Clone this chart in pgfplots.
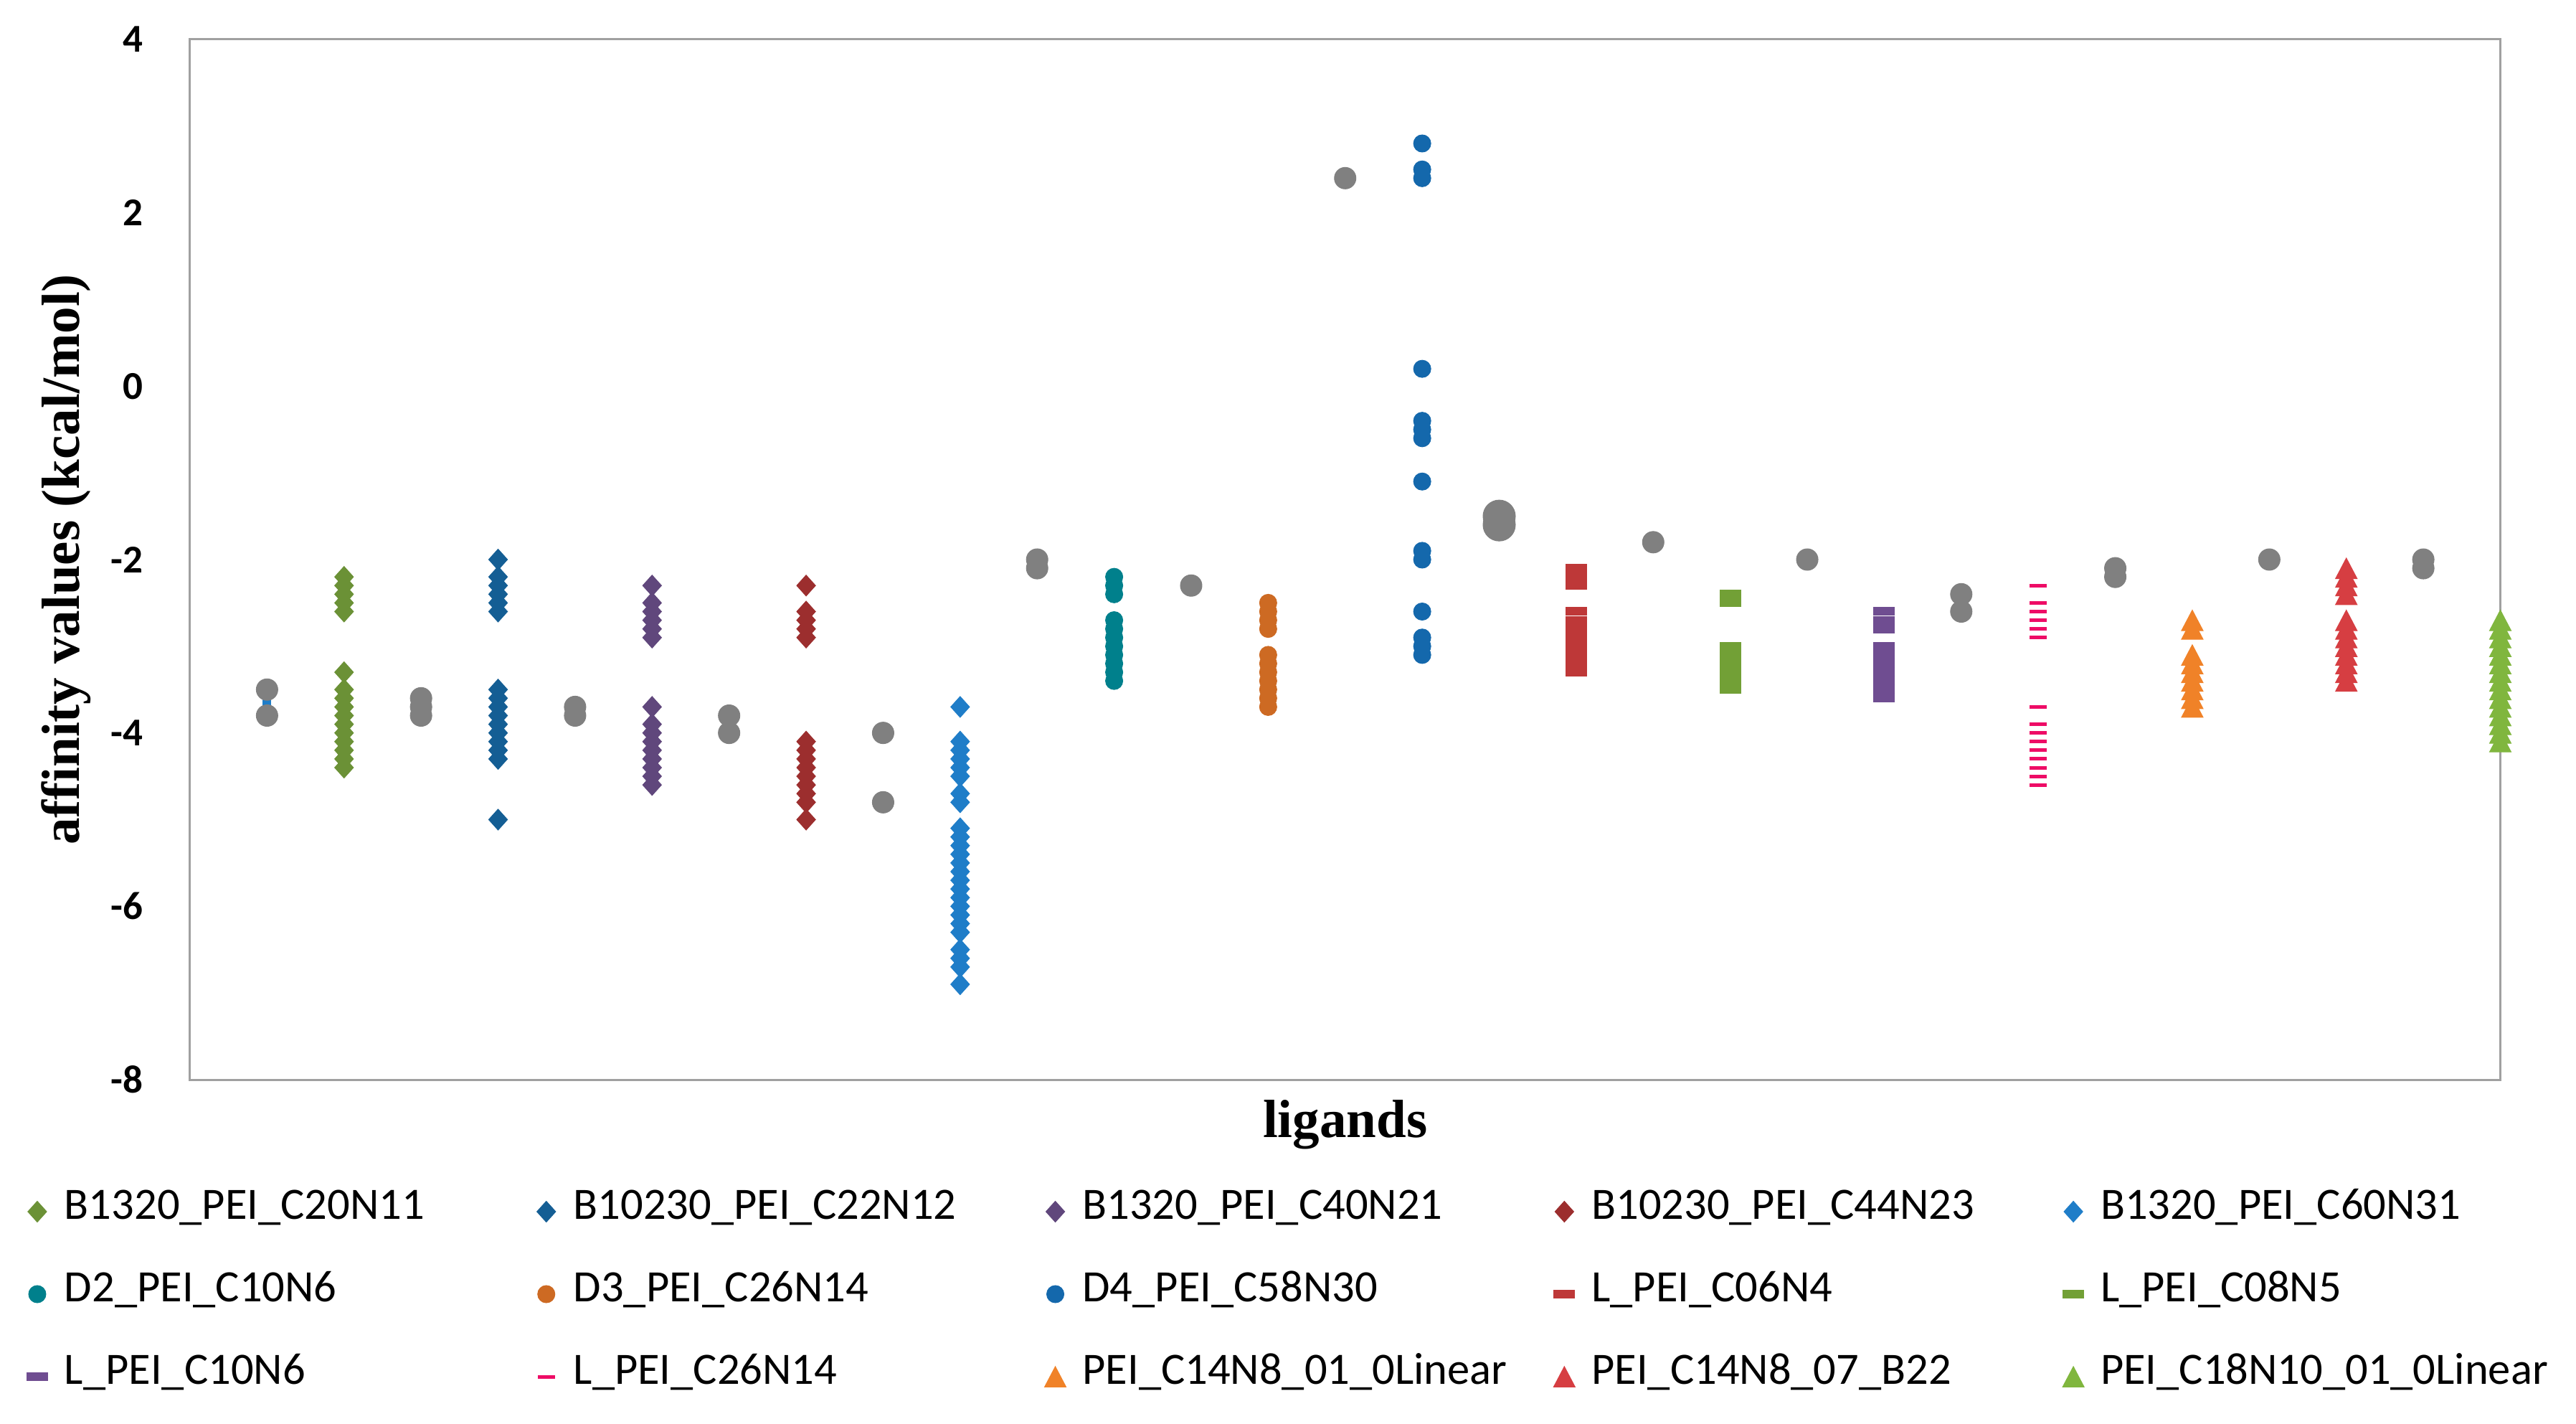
\documentclass[border=0pt]{standalone}
\usepackage{fontspec}
\setmainfont{Carlito}
\newfontfamily\tnr{Liberation Serif}
\usepackage{pgfplots}
\pgfplotsset{compat=1.18}

\definecolor{cA}{RGB}{107,145,54}
\definecolor{cB}{RGB}{20,94,148}
\definecolor{cC}{RGB}{96,71,124}
\definecolor{cD}{RGB}{156,46,46}
\definecolor{cE}{RGB}{31,125,200}
\definecolor{cF}{RGB}{0,128,140}
\definecolor{cG}{RGB}{205,106,35}
\definecolor{cH}{RGB}{20,104,172}
\definecolor{cI}{RGB}{190,56,56}
\definecolor{cJ}{RGB}{114,160,54}
\definecolor{cK}{RGB}{111,77,145}
\definecolor{cL}{RGB}{238,12,102}
\definecolor{cM}{RGB}{240,130,40}
\definecolor{cN}{RGB}{214,62,66}
\definecolor{cO}{RGB}{128,182,62}
\definecolor{gry}{RGB}{128,128,128}
\definecolor{axgray}{RGB}{160,160,160}

\pgfplotsset{
  dia/.style={only marks, mark=diamond*, mark size=2.9pt, mark options={xscale=1.2, line width=0.2pt}, color=#1},
  dot/.style={only marks, mark=*, mark size=2.4pt, mark options={line width=0.2pt}, color=#1},
  dsh/.style={only marks, mark=-, mark size=3pt, mark options={line width=2.4pt}, color=#1},
  tri/.style={only marks, mark=triangle*, mark size=3.46pt, mark options={yscale=1.1, yshift=-0.9pt, line width=0.2pt}, color=#1},
}

\newcommand{\lent}[1]{\makebox[133.56pt][l]{\hspace{3.4pt}#1}}
\newcommand{\lenl}[1]{\hspace{3.4pt}#1}

\begin{document}
\begin{tikzpicture}
\begin{axis}[
  at={(0,0)}, anchor=south west,
  scale only axis, width=644.3pt, height=290pt,
  xmin=0, xmax=30, ymin=-8, ymax=4,
  xtick=\empty,
  ytick={-8,-6,-4,-2,0,2,4},
  yticklabels={-8,-6,-4,-2,0,2,4},
  major tick length=0pt,
  axis line style={draw=axgray, line width=0.6pt},
  clip=false,
  yticklabel style={inner sep=0pt, xshift=-13pt, font=\bfseries\fontsize{11}{13}\selectfont},
  xlabel={ligands},
  xlabel style={at={(axis description cs:0.5,-0.0186)}, anchor=north, inner sep=0pt, font=\tnr\bfseries\fontsize{15}{18}\selectfont},
  ylabel={affinity values (kcal/mol)},
  ylabel style={at={(axis description cs:-0.0537,0.5)}, anchor=center, inner sep=0pt, font=\tnr\bfseries\fontsize{15}{18}\selectfont},
  legend columns=5,
  legend cell align=left,
  legend image code/.code={\path (-4pt,0pt) (4pt,0pt); \draw[#1,/tikz/only marks] plot coordinates {(0pt,0pt)};},
  legend style={at={(axis description cs:-0.07264,-0.08724)}, anchor=north west,
    draw=none, fill=none, inner sep=0pt, outer sep=0pt, column sep=0pt, row sep=0pt,
    nodes={inner sep=0pt, text height=13.5pt, text depth=9.5pt},
    font=\fontsize{12.5}{15}\selectfont},
]

% blue bit hidden behind the grey points at x=1
\addplot[only marks, mark=square*, mark size=1pt, color=cE, forget plot] coordinates {(1,-3.65)};

\addplot[dia=cA] coordinates {
(2,-2.2)(2,-2.3)(2,-2.4)(2,-2.5)(2,-2.6)
(2,-3.3)(2,-3.5)(2,-3.6)(2,-3.7)(2,-3.8)(2,-3.9)(2,-4.0)(2,-4.1)(2,-4.2)(2,-4.3)(2,-4.4)};
\addlegendentry{\lent{B1320\_PEI\_C20N11}}

\addplot[dia=cB] coordinates {
(4,-2.0)(4,-2.2)(4,-2.3)(4,-2.4)(4,-2.5)(4,-2.6)
(4,-3.5)(4,-3.6)(4,-3.7)(4,-3.8)(4,-3.9)(4,-4.0)(4,-4.1)(4,-4.2)(4,-4.3)(4,-5.0)};
\addlegendentry{\lent{B10230\_PEI\_C22N12}}

\addplot[dia=cC] coordinates {
(6,-2.3)(6,-2.5)(6,-2.6)(6,-2.7)(6,-2.8)(6,-2.9)
(6,-3.7)(6,-3.9)(6,-4.0)(6,-4.1)(6,-4.2)(6,-4.3)(6,-4.4)(6,-4.5)(6,-4.6)};
\addlegendentry{\lent{B1320\_PEI\_C40N21}}

\addplot[dia=cD] coordinates {
(8,-2.3)(8,-2.6)(8,-2.7)(8,-2.8)(8,-2.9)
(8,-4.1)(8,-4.2)(8,-4.3)(8,-4.4)(8,-4.5)(8,-4.6)(8,-4.7)(8,-4.8)(8,-5.0)};
\addlegendentry{\lent{B10230\_PEI\_C44N23}}

\addplot[dia=cE] coordinates {
(10,-3.7)(10,-4.1)(10,-4.2)(10,-4.3)(10,-4.4)(10,-4.5)(10,-4.7)(10,-4.8)
(10,-5.1)(10,-5.2)(10,-5.3)(10,-5.4)(10,-5.5)(10,-5.6)(10,-5.7)(10,-5.8)(10,-5.9)
(10,-6.0)(10,-6.1)(10,-6.2)(10,-6.3)(10,-6.5)(10,-6.6)(10,-6.7)(10,-6.9)};
\addlegendentry{\lenl{B1320\_PEI\_C60N31}}

\addplot[dot=cF] coordinates {
(12,-2.2)(12,-2.3)(12,-2.4)
(12,-2.7)(12,-2.8)(12,-2.9)(12,-3.0)(12,-3.1)(12,-3.2)(12,-3.3)(12,-3.4)};
\addlegendentry{\lent{D2\_PEI\_C10N6}}

\addplot[dot=cG] coordinates {
(14,-2.5)(14,-2.6)(14,-2.7)(14,-2.8)
(14,-3.1)(14,-3.2)(14,-3.3)(14,-3.4)(14,-3.5)(14,-3.6)(14,-3.7)};
\addlegendentry{\lent{D3\_PEI\_C26N14}}

\addplot[dot=cH] coordinates {
(16,2.8)(16,2.5)(16,2.4)(16,0.2)(16,-0.4)(16,-0.5)(16,-0.6)(16,-1.1)
(16,-1.9)(16,-2.0)(16,-2.6)(16,-2.9)(16,-3.0)(16,-3.1)};
\addlegendentry{\lent{D4\_PEI\_C58N30}}

\addplot[dsh=cI] coordinates {
(18,-2.1)(18,-2.2)(18,-2.3)
(18,-2.6)(18,-2.7)(18,-2.8)(18,-2.9)(18,-3.0)(18,-3.1)(18,-3.2)(18,-3.3)};
\addlegendentry{\lent{L\_PEI\_C06N4}}

\addplot[dsh=cJ] coordinates {
(20,-2.4)(20,-2.5)
(20,-3.0)(20,-3.1)(20,-3.2)(20,-3.3)(20,-3.4)(20,-3.5)};
\addlegendentry{\lenl{L\_PEI\_C08N5}}

\addplot[dsh=cK] coordinates {
(22,-2.6)(22,-2.7)(22,-2.8)
(22,-3.0)(22,-3.1)(22,-3.2)(22,-3.3)(22,-3.4)(22,-3.5)(22,-3.6)};
\addlegendentry{\lent{L\_PEI\_C10N6}}

\addplot[dsh=cL, mark size=2.4pt, mark options={line width=1pt}] coordinates {
(24,-2.3)(24,-2.5)(24,-2.6)(24,-2.7)(24,-2.8)(24,-2.9)
(24,-3.7)(24,-3.9)(24,-4.0)(24,-4.1)(24,-4.2)(24,-4.3)(24,-4.4)(24,-4.5)(24,-4.6)};
\addlegendentry{\lent{L\_PEI\_C26N14}}

\addplot[tri=cM] coordinates {
(26,-2.7)(26,-2.8)
(26,-3.1)(26,-3.2)(26,-3.3)(26,-3.4)(26,-3.5)(26,-3.6)(26,-3.7)};
\addlegendentry{\lent{PEI\_C14N8\_01\_0Linear}}

\addplot[tri=cN] coordinates {
(28,-2.1)(28,-2.2)(28,-2.3)(28,-2.4)
(28,-2.7)(28,-2.8)(28,-2.9)(28,-3.0)(28,-3.1)(28,-3.2)(28,-3.3)(28,-3.4)};
\addlegendentry{\lent{PEI\_C14N8\_07\_B22}}

\addplot[tri=cO] coordinates {
(30,-2.7)(30,-2.8)(30,-2.9)(30,-3.0)(30,-3.1)(30,-3.2)(30,-3.3)(30,-3.4)
(30,-3.5)(30,-3.6)(30,-3.7)(30,-3.8)(30,-3.9)(30,-4.0)(30,-4.1)};
\addlegendentry{\lenl{PEI\_C18N10\_01\_0Linear}}

% grey reference points, not in the legend
\addplot[dot=gry, mark size=3pt, forget plot] coordinates {
(1,-3.5)(1,-3.8)(3,-3.6)(3,-3.7)(3,-3.8)(5,-3.7)(5,-3.8)(7,-3.8)(7,-4.0)
(9,-4.0)(9,-4.8)(11,-2.0)(11,-2.1)(13,-2.3)(15,2.4)(19,-1.8)(21,-2.0)
(23,-2.4)(23,-2.6)(25,-2.1)(25,-2.2)(27,-2.0)(29,-2.0)(29,-2.1)};
\addplot[dot=gry, mark size=4.5pt, forget plot] coordinates {(17,-1.5)(17,-1.6)};

\end{axis}
\path (-53pt,-95.8pt) rectangle (665.4pt,301pt);
\end{tikzpicture}
\end{document}
